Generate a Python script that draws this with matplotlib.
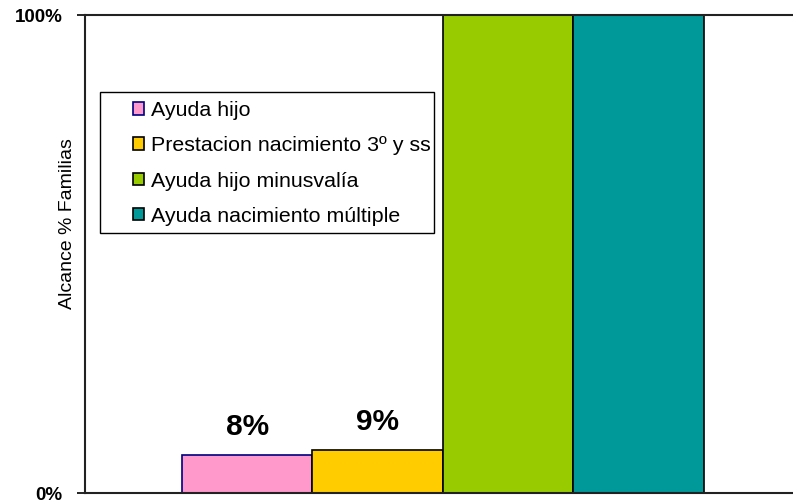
import matplotlib.pyplot as plt
from matplotlib.patches import Rectangle

plt.rcParams['font.family'] = ['Liberation Sans', 'DejaVu Sans']

# Datos
series = ['Ayuda hijo', 'Prestacion nacimiento 3º y ss',
          'Ayuda hijo minusvalía', 'Ayuda nacimiento múltiple']
valores = [8, 9, 100, 100]
etiquetas = ['8%', '9%', None, None]
colores = ['#FF99CC', '#FFCC00', '#99CC00', '#009999']
bordes = ['#000080', 'black', 'black', 'black']

fig = plt.figure(figsize=(7.93, 5.0), dpi=100)
ax = fig.add_axes([85 / 793, 7 / 500, 1 - 85 / 793, 478 / 500])

posiciones = list(range(len(series)))
barras = ax.bar(posiciones, valores, width=1.0, color=colores,
                edgecolor=bordes, linewidth=1.2)

for b, et in zip(barras, etiquetas):
    if et:
        ax.text(b.get_x() + b.get_width() / 2, b.get_height() + 4.2, et,
                ha='center', va='baseline', fontsize=21.5, fontweight='bold')

ax.set_xlim(-1.243, 4.182)
ax.set_ylim(0, 100)
ax.set_xticks([])
ax.set_yticks([0, 100])
ax.set_yticklabels(['0%', '100%'], fontsize=13.5, fontweight='bold')
ax.tick_params(axis='y', direction='out', length=5.8, width=1.2, pad=10.5)

ax.spines['right'].set_visible(False)
for s in ['left', 'top', 'bottom']:
    ax.spines[s].set_linewidth(1.5)
    ax.spines[s].set_color('#222222')

ax.set_ylabel('Alcance % Familias', fontsize=14)
ax.yaxis.set_label_coords(-0.013, 0.563)

# Leyenda con marco manual
w, h = 708, 478
ax.add_patch(Rectangle(((100 - 85) / w, (493 - 233) / h), 334 / w, 141 / h,
                       transform=ax.transAxes, facecolor='white',
                       edgecolor='black', linewidth=1, zorder=5))
handles = [Rectangle((0, 0), 1, 1, facecolor=c, edgecolor=e, linewidth=1.2)
           for c, e in zip(colores, bordes)]
leg = ax.legend(handles, series, loc='upper left', frameon=False,
                bbox_to_anchor=((133 - 85) / w, (493 - 101) / h),
                borderpad=0, borderaxespad=0, fontsize=15.4,
                handlelength=0.52, handleheight=0.52, handletextpad=0.33,
                labelspacing=0.76)
leg.set_zorder(6)

fig.savefig('out.png', dpi=100)
